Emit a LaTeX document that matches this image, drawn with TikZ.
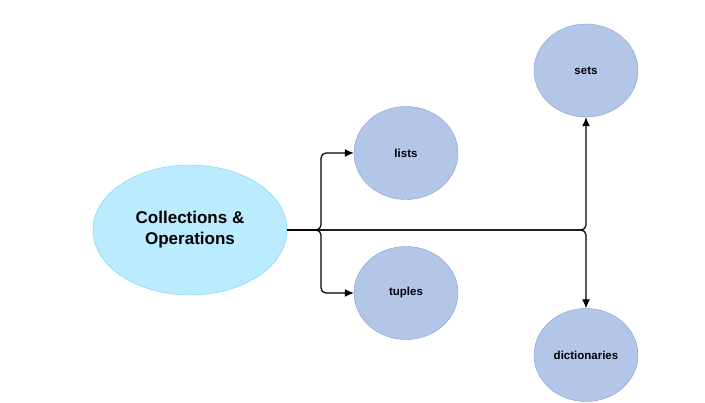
\documentclass[tikz,border=0pt]{standalone}
\usepackage{fontspec}
\setmainfont{Liberation Sans}
\usepackage{xcolor}
\usetikzlibrary{shapes,arrows.meta}
\definecolor{topicfill}{HTML}{B3C6E8}
\definecolor{topicdraw}{HTML}{7D9FD6}
\definecolor{mainfill}{HTML}{BAEBFE}
\definecolor{maindraw}{HTML}{6DD3F7}
\tikzstyle{topic} = [ellipse, draw=topicdraw, fill=topicfill, minimum width=104pt, minimum height=93pt, inner sep=0pt, font=\bfseries\fontsize{11.5}{14}\selectfont]
\tikzstyle{main} = [ellipse, draw=maindraw, fill=mainfill, minimum width=194pt, minimum height=130pt, inner sep=0pt, align=center, font=\bfseries\fontsize{17}{21}\selectfont]
\tikzstyle{line} = [draw, line width=1.2pt, -{Latex[length=9pt,width=8pt]}, rounded corners=5pt]

\begin{document}
\begin{tikzpicture}[x=1pt, y=-1pt]
\useasboundingbox (0,0) rectangle (705,403);
\node [main] (coll) at (190,230) {Collections \&\\Operations};
\node [topic] (lists) at (406,153) {lists};
\node [topic] (tuples) at (406,293) {tuples};
\node [topic] (sets) at (586,70.5) {sets};
\node [topic] (dicts) at (586,355) {dictionaries};
\coordinate (split) at (321,230);
\path [line] (coll.east) -- (split) |- (lists);
\path [line] (coll.east) -- (split) |- (tuples);
\path [line] (coll.east) -| (sets);
\path [line] (coll.east) -| (dicts);
\end{tikzpicture}
\end{document}
